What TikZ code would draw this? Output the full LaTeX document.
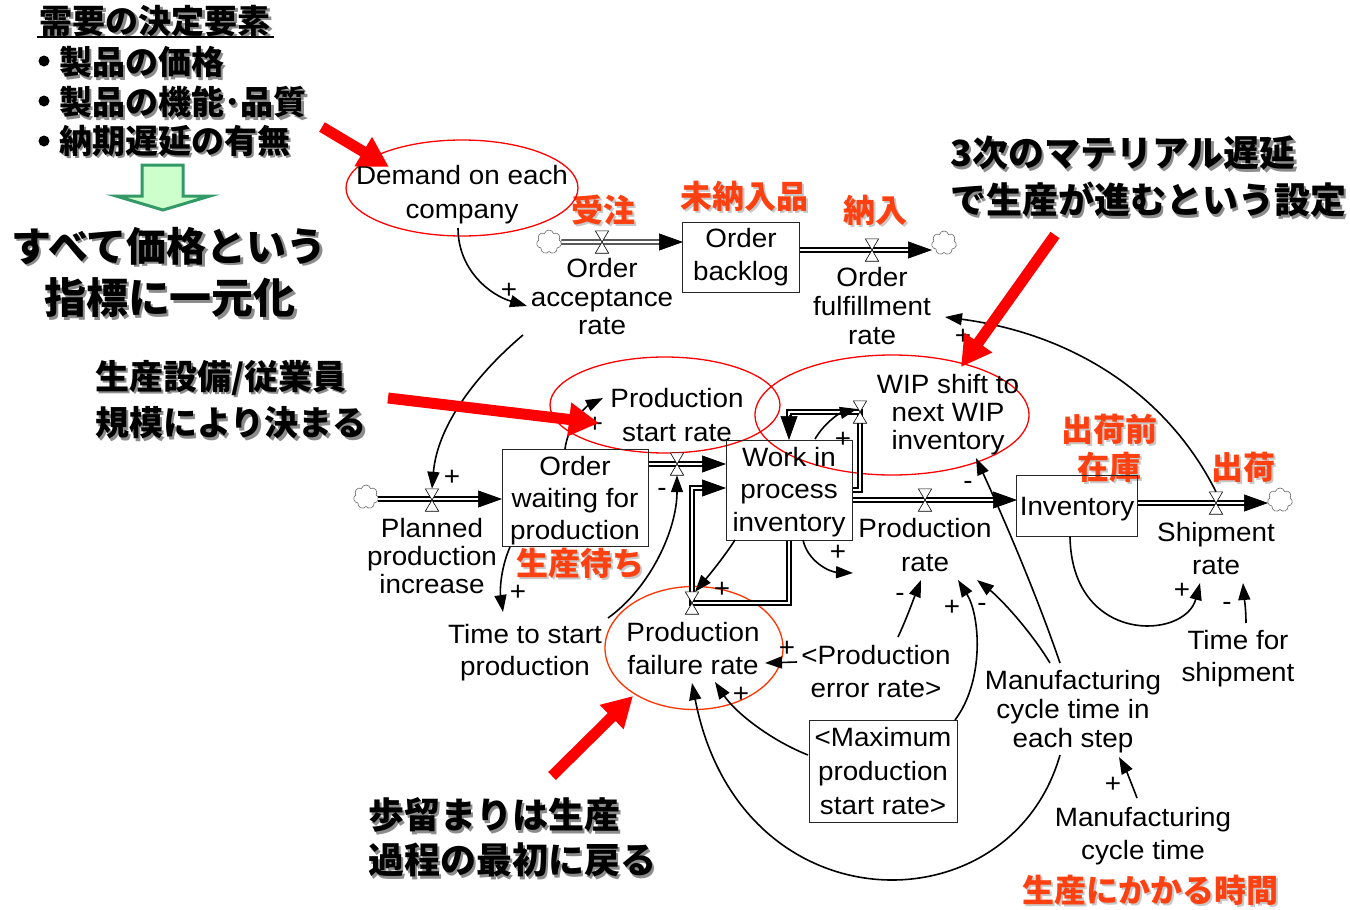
\documentclass[tikz,border=0pt]{standalone}
\usepackage{fontspec}
\setmainfont{Liberation Sans}
\newfontfamily\labf{Liberation Sans}[FakeStretch=1.05]
\newfontfamily\jp{Noto Sans CJK JP}
\usetikzlibrary{arrows.meta,shapes.geometric,shapes.symbols}
\definecolor{jred}{RGB}{255,64,16}
\definecolor{shgray}{RGB}{140,140,140}
\definecolor{shlight}{RGB}{200,200,200}
\definecolor{gfill}{RGB}{204,255,204}
\definecolor{gdraw}{RGB}{51,153,102}
\definecolor{ellred}{RGB}{255,0,0}
\definecolor{ellorange}{RGB}{255,51,0}
\tikzset{
  lab/.style={align=center, inner sep=0pt, font=\labf\fontsize{26.5}{#1}\selectfont},
  lab/.default=29,
  sgn/.style={inner sep=0pt, font=\labf\fontsize{26.5}{29}\selectfont},
  stock/.style={draw=black!85, line width=0.9pt, inner sep=0pt},
  pipeout/.style={draw=black, line width=5.4pt, line join=miter},
  pipein/.style={draw=white, line width=2.8pt, line join=miter},
  phead/.style={-{Triangle[length=24pt,width=17pt]}, line width=0.7pt},
  link/.style={line width=1.6pt, -{Triangle[length=17pt,width=12pt]}},
  src/.style={cloud, cloud puffs=7, aspect=1, draw=black!60, fill=white, line width=0.6pt, minimum width=25pt, minimum height=24pt, inner sep=0pt},
  redell/.style={ellipse, draw=ellred, line width=1.3pt, inner sep=0pt},
  redarr/.style={draw=red, line width=11pt, -{Triangle[length=30pt,width=32pt]}},
}
\newcommand\pipepath[1]{\draw[pipeout] #1; \draw[pipein] #1;}
\newcommand\valve[2]{%
  \node[inner sep=0pt, minimum width=13pt, minimum height=22pt] (#1) at (#2) {};
  \draw[fill=white, line width=0.6pt] (#1.north west) -- (#1.north east) -- (#1.south west) -- (#1.south east) -- cycle;}
\newcommand\jt[5]{% name, pos, anchor, size, text (black with gray shadow)
  \node[anchor=#3, inner sep=0pt, text=shgray, font=\jp\bfseries\fontsize{#4}{#4}\selectfont] (#1s) at ([shift={(2.5,2.5)}]#2) {#5};
  \node[anchor=#3, inner sep=0pt, text=black, font=\jp\bfseries\fontsize{#4}{#4}\selectfont] (#1) at (#2) {#5};}
\newcommand\jr[4]{% name, pos, size, text (red with light shadow)
  \node[inner sep=0pt, text=shlight, font=\jp\bfseries\fontsize{#3}{#3}\selectfont] (#1s) at ([shift={(2.5,2.5)}]#2) {#4};
  \node[inner sep=0pt, text=jred, font=\jp\bfseries\fontsize{#3}{#3}\selectfont] (#1) at (#2) {#4};}
\begin{document}
\begin{tikzpicture}[x=1pt, y=-1pt]
\fill[white] (0,0) rectangle (1350,910);
\useasboundingbox (0,0) rectangle (1350,910);

% ---------- left annotations ----------
\jt{h0}{155,21}{center}{33}{需要の決定要素}
\draw[line width=2.5pt] (37,37) -- (274,37);
\fill (44,61) circle (5.5pt);
\fill (44,101) circle (5.5pt);
\fill (44,141) circle (5.5pt);
\jt{h1}{59,62}{west}{33}{製品の価格}
\jt{h2}{59,102}{west}{33}{製品の機能･品質}
\jt{h3}{59,141}{west}{33}{納期遅延の有無}
\draw[fill=gfill, draw=gdraw, line width=3pt] (142,165) -- (183,165) -- (183,196) -- (210,196) -- (163,210) -- (116,196) -- (142,196) -- cycle;
\jt{h4}{169,246}{center}{40}{すべて価格という}
\jt{h5}{170,298}{center}{42}{指標に一元化}
\jt{a1}{95,378}{west}{34}{生産設備/従業員}
\jt{a2}{95,423}{west}{34}{規模により決まる}
\jt{b1}{950,153}{west}{36}{3次のマテリアル遅延}
\jt{b2}{950,200}{west}{36}{で生産が進むという設定}
\jt{d1}{368,815}{west}{36}{歩留まりは生産}
\jt{d2}{368,860}{west}{36}{過程の最初に戻る}

% ---------- red labels ----------
\jr{r1}{603,210}{32}{受注}
\jr{r2}{744,196}{32}{未納入品}
\jr{r3}{875,210}{32}{納入}
\jr{r4}{1109,429}{32}{出荷前}
\jr{r5}{1109,467}{32}{在庫}
\jr{r6}{1243,467}{32}{出荷}
\jr{r7}{580,563}{32}{生産待ち}
\jr{r8}{1150,890}{32}{生産にかかる時間}

% ---------- ellipses ----------
\node[redell, minimum width=232pt, minimum height=96pt] (e1) at (462,188) {};
\node[redell, minimum width=230pt, minimum height=96pt] (e2) at (665,405) {};
\node[redell, minimum width=274pt, minimum height=120pt] (e3) at (892,415) {};
\node[redell, draw=ellorange, minimum width=178pt, minimum height=123pt] (e4) at (694,648) {};

% ---------- clouds ----------
\node[src] (c1) at (549,242) {};
\node[src] (c2) at (944,243) {};
\node[src] (c3) at (366,497) {};
\node[src] (c4) at (1280,500) {};

% ---------- pipes ----------
\coordinate (p1e) at (683,242);
\pipepath{(c1.east) -- ([xshift=-20pt]p1e)}
\coordinate (p2s) at (800,250);
\coordinate (p2e) at (932,250);
\pipepath{(p2s) -- ([xshift=-20pt]p2e)}
\coordinate (p3e) at (502,499);
\pipepath{(c3.east |- p3e) -- ([xshift=-20pt]p3e)}
\coordinate (p4s) at (648,464);
\coordinate (p4e) at (726,464);
\pipepath{(p4s) -- ([xshift=-20pt]p4e)}
\coordinate (p5s) at (852,500);
\coordinate (p5e) at (1017,500);
\pipepath{(p5s) -- ([xshift=-20pt]p5e)}
\coordinate (p6s) at (1138,503);
\coordinate (p6e) at (1268,503);
\pipepath{(p6s) -- ([xshift=-20pt]p6e)}
% WIP shift loop
\coordinate (p7s) at (852,490);
\coordinate (p7e) at (789,440);
\pipepath{(p7s) -- (860,490) -- (860,412) -- (789,412) -- (789,420)}
% failure loop
\coordinate (p8s) at (789,540);
\coordinate (p8e) at (726,488);
\pipepath{(p8s) -- (789,603) -- (692,603) -- (692,488) -- (706,488)}
\draw[phead] ([xshift=-24pt]p1e) -- (p1e);
\draw[phead] ([xshift=-24pt]p2e) -- (p2e);
\draw[phead] ([xshift=-24pt]p3e) -- (p3e);
\draw[phead] ([xshift=-24pt]p4e) -- (p4e);
\draw[phead] ([xshift=-24pt]p5e) -- (p5e);
\draw[phead] ([xshift=-24pt]p6e) -- (p6e);
\draw[phead] (789,415) -- (p7e);
\draw[phead] (702,488) -- (p8e);

% ---------- variables ----------
\node[lab=34] (dem) at (462,195) {Demand on each\\company};
\node[lab=28.5] (oar) at (602,297) {Order\\acceptance\\rate};
\node[stock, minimum width=117pt, minimum height=70pt] (ob) at (741,257) {};
\node[lab=33] (obt) at (741,257) {Order\\backlog};
\node[lab=29] (ofr) at (872,306) {Order\\fulfillment\\rate};
\node[lab=34] (psr) at (677,415) {Production\\start rate};
\node[lab=28] (wips) at (948,415) {WIP shift to\\next WIP\\inventory};
\node[lab=28] (ppi) at (432,556) {Planned\\production\\increase};
\node[stock, minimum width=146pt, minimum height=97pt] (owp) at (575,498) {};
\node[lab=32] (owpt) at (575,501) {Order\\waiting for\\production};
\node[stock, minimum width=126pt, minimum height=100pt] (wip) at (789,490) {};
\node[lab=32.5] (wipt) at (789,492) {Work in\\process\\inventory};
\node[stock, minimum width=121pt, minimum height=61pt] (inv) at (1077,506) {};
\node[lab=29] (invt) at (1077,509) {Inventory};
\node[lab=34] (pr) at (925,545) {Production\\rate};
\node[lab=33] (sr) at (1216,549) {Shipment\\rate};
\node[lab=32] (tsp) at (525,653) {Time to start\\production};
\node[lab=33] (pfr) at (693,649) {Production\\failure rate};
\node[lab=33] (per) at (876,672) {<Production\\error rate>};
\node[stock, minimum width=148pt, minimum height=102pt] (mps) at (883,771) {};
\node[lab=34] (mpst) at (883,771) {<Maximum\\production\\start rate>};
\node[lab=29] (mcs) at (1073,712) {Manufacturing\\cycle time in\\each step};
\node[lab=33] (mct) at (1143,836) {Manufacturing\\cycle time};
\node[lab=32] (tfs) at (1238,659) {Time for\\shipment};

% ---------- valves ----------
\valve{v1}{602,242}
\valve{v2}{872,250}
\valve{v3}{432,500}
\valve{v4}{677,464}
\valve{v5}{925,500}
\valve{v6}{1216,503}
\valve{v7}{860,412}
\valve{v8}{692,603}

% ---------- information links ----------
\draw[link] ([shift={(-4,33)}]dem.center) .. controls (458,270) and (490,295) .. ([shift={(-75,9)}]oar.center);
\node[sgn] at (509,291) {+};
\draw[link] ([shift={(-79,38)}]oar.center) .. controls (470,380) and (437,430) .. (v3.north);
\node[sgn] at (452,478) {+};
\draw[link] ([xshift=-10pt]owp.north) .. controls (568,425) and (585,407) .. ([shift={(-74,-17)}]psr.center);
\node[sgn] at (595,425) {+};
\draw[link] ([shift={(83,-35)}]tsp.center) .. controls (650,588) and (677,530) .. (v4.south);
\node[sgn] at (662,492) {-};
\draw[link] ([shift={(-65,49)}]owp.center) .. controls (500,570) and (500,592) .. ([shift={(-22,-41)}]tsp.center);
\node[sgn] at (518,593) {+};
\draw[link] ([shift={(-54,50)}]wip.center) .. controls (722,560) and (705,580) .. ([xshift=3pt]v8.north);
\node[sgn] at (722,590) {+};
\draw[link] ([shift={(26,-51)}]wip.center) .. controls (825,422) and (840,413) .. ([shift={(-3,-3)}]v7.center);
\node[sgn] at (843,440) {+};
\draw[link] ([shift={(14,50)}]wip.center) .. controls (808,562) and (830,572) .. ([shift={(-72,28)}]pr.center);
\node[sgn] at (838,553) {+};
\draw[link] ([shift={(-79,-10)}]per.center) -- ([shift={(72,14)}]pfr.center);
\node[sgn] at (787,649) {+};
\draw[link] ([shift={(22,-35)}]per.center) .. controls (906,620) and (914,598) .. ([shift={(-4,35)}]pr.center);
\node[sgn] at (900,597) {-};
\draw[link] ([shift={(-75,-16)}]mps.center) .. controls (770,740) and (735,712) .. ([shift={(22,33)}]pfr.center);
\node[sgn] at (741,695) {+};
\draw[link] ([shift={(72,-51)}]mps.center) .. controls (985,680) and (980,615) .. ([shift={(33,35)}]pr.center);
\node[sgn] at (952,608) {+};
\draw[link] ([shift={(-23,-49)}]mcs.center) .. controls (1030,630) and (1000,598) .. ([shift={(52,35)}]pr.center);
\node[sgn] at (982,607) {-};
\draw[link] ([shift={(-13,-49)}]mcs.center) .. controls (1035,590) and (1000,510) .. ([shift={(28,43)}]wips.center);
\node[sgn] at (968,485) {-};
\draw[link] ([shift={(-13,43)}]mcs.center) .. controls (1010,930) and (740,930) .. ([shift={(-1,34)}]pfr.center);
\draw[link] ([shift={(-6,-38)}]mct.center) .. controls (1131,782) and (1125,768) .. ([shift={(46,45)}]mcs.center);
\node[sgn] at (1113,785) {+};
\draw[link] ([shift={(-7,31)}]inv.center) .. controls (1072,645) and (1185,640) .. ([shift={(-16,34)}]sr.center);
\node[sgn] at (1182,591) {+};
\draw[link] ([shift={(8,-36)}]tfs.center) .. controls (1246,608) and (1244,596) .. ([shift={(27,34)}]sr.center);
\node[sgn] at (1227,606) {-};
\draw[link] (v6.north) .. controls (1170,400) and (1080,335) .. ([shift={(73,11)}]ofr.center);
\node[sgn] at (963,337) {+};

% ---------- red pointer arrows ----------
\draw[redarr] (322,127) -- (389,167);
\draw[redarr] (388,398) -- (599,423);
\draw[redarr] (1055,235) -- (961,367);
\draw[redarr] (552,776) -- (633,696);
\end{tikzpicture}
\end{document}
